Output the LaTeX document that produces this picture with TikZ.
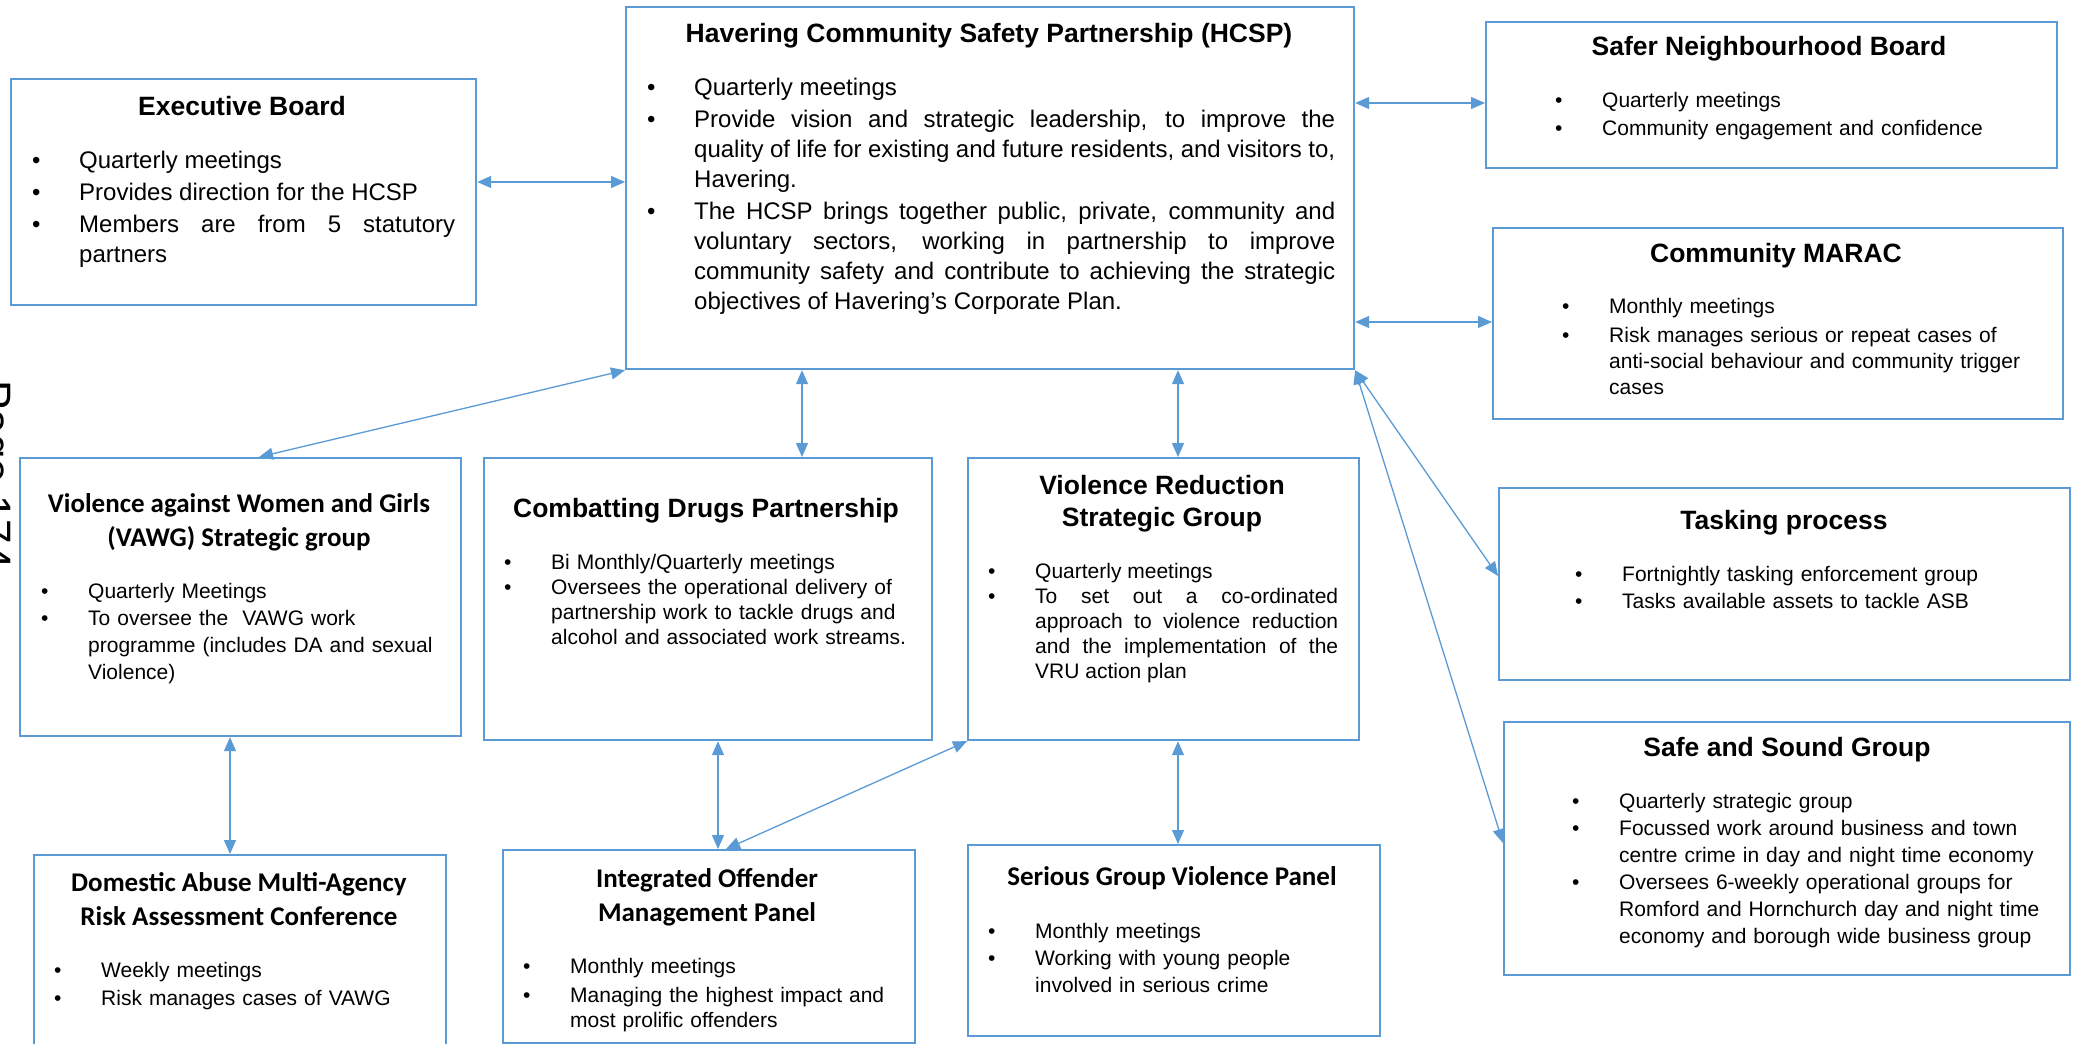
\documentclass[tikz,border=0pt]{standalone}
\usepackage{fontspec}
\setmainfont{Liberation Sans}
\newfontfamily\calfont{Carlito}
\usetikzlibrary{arrows.meta}

\definecolor{hblue}{RGB}{91,155,213}
\newlength\hng
\setlength\hng{47pt}
% bullet item with hanging indent
\newcommand\itm[1]{\hangindent=\hng\hangafter=1\noindent\makebox[\hng][l]{\textbullet}#1\par}

\tikzset{
    box/.style={draw=hblue, line width=2.2pt, anchor=north west, inner sep=0pt},
    hd/.style={anchor=base, inner sep=0pt, align=center, font=\bfseries\fontsize{26.5}{32}\selectfont},
    hdc/.style={anchor=base, inner sep=0pt, align=center, font=\calfont\bfseries\fontsize{27}{34}\selectfont},
    txt/.style 2 args={anchor=base west, inner sep=0pt, align=left, text width=480pt,
        font=\fontsize{21}{#1}\selectfont\setlength\parskip{#2pt}},
    txtj/.style 2 args={anchor=base west, inner sep=0pt, align=justify, text width=#2pt,
        font=\fontsize{#1}{30}\selectfont\setlength\parskip{2pt}},
    link/.style={draw=hblue, line width=1.3pt,
        {Triangle[length=14pt,width=12pt]}-{Triangle[length=14pt,width=12pt]}}
}

\begin{document}
\begin{tikzpicture}[x=1pt, y=-1pt]
    \path[use as bounding box, fill=white] (0,0) rectangle (2073,1044);

    % page number at the left edge
    \node[rotate=-90, anchor=base west, inner sep=0pt, font=\fontsize{44}{44}\selectfont] (pg) at (-19.5,380) {Page 174};

    % top row
    \node[box, minimum width=465pt, minimum height=226pt] (exec) at (10,78) {};
    \node[hd] (exec-t) at (242,115) {Executive Board};
    \node[txtj={24}{423}] (exec-b) at (32,168) {\itm{Quarterly meetings}\itm{Provides direction for the HCSP}\itm{Members are from 5 statutory\linebreak partners}};

    \node[box, minimum width=728pt, minimum height=362pt] (hcsp) at (625,6) {};
    \node[hd] (hcsp-t) at (989,42) {Havering Community Safety Partnership (HCSP)};
    \node[txtj={24}{688}] (hcsp-b) at (647,95) {\itm{Quarterly meetings}%
        \itm{Provide vision and strategic leadership, to improve the\linebreak quality of life for existing and future residents, and visitors to,\linebreak Havering.}%
        \itm{The HCSP brings together public, private, community and\linebreak voluntary sectors, working in partnership to improve\linebreak community safety and contribute to achieving the strategic\linebreak objectives of Havering’s Corporate Plan.}};

    % right column
    \node[box, minimum width=571pt, minimum height=146pt] (snb) at (1485,21) {};
    \node[hd] (snb-t) at (1769,55) {Safer Neighbourhood Board};
    \node[txt={28}{0}] (snb-b) at (1555,107) {\itm{Quarterly meetings}\itm{Community engagement and confidence}};

    \node[box, minimum width=570pt, minimum height=191pt] (marac) at (1492,227) {};
    \node[hd] (marac-t) at (1776,262) {Community MARAC};
    \node[txt={26}{3}] (marac-b) at (1562,313) {\itm{Monthly meetings}\itm{Risk manages serious or repeat cases of\newline anti-social behaviour and community trigger\newline cases}};

    \node[box, minimum width=571pt, minimum height=192pt] (task) at (1498,487) {};
    \node[hd] (task-t) at (1784,529) {Tasking process};
    \node[txt={27}{0}] (task-b) at (1575,581) {\itm{Fortnightly tasking enforcement group}\itm{Tasks available assets to tackle ASB}};

    \node[box, minimum width=566pt, minimum height=253pt] (sas) at (1503,721) {};
    \node[hd] (sas-t) at (1787,756) {Safe and Sound Group};
    \node[txt={27}{0}] (sas-b) at (1572,808) {\itm{Quarterly strategic group}%
        \itm{Focussed work around business and town\newline centre crime in day and night time economy}%
        \itm{Oversees 6-weekly operational groups for\newline Romford and Hornchurch day and night time\newline economy and borough wide business group}};

    % middle row
    \node[box, minimum width=441pt, minimum height=278pt] (vawg) at (19,457) {};
    \node[hdc] (vawg-t) at (239,546) {Violence against Women and Girls\\(VAWG) Strategic group};
    \node[txt={27}{0}] (vawg-b) at (41,598) {\itm{Quarterly Meetings}\itm{To oversee the\ \ VAWG work\newline programme (includes DA and sexual\newline Violence)}};

    \node[box, minimum width=448pt, minimum height=282pt] (cdp) at (483,457) {};
    \node[hd] (cdp-t) at (706,517) {Combatting Drugs Partnership};
    \node[txt={25}{0}] (cdp-b) at (504,569) {\itm{Bi Monthly/Quarterly meetings}\itm{Oversees the operational delivery of\newline partnership work to tackle drugs and\newline alcohol and associated work streams.}};

    \node[box, minimum width=391pt, minimum height=282pt] (vrsg) at (967,457) {};
    \node[hd] (vrsg-t) at (1162,526) {Violence Reduction\\Strategic Group};
    \node[txtj={21}{350}, font=\fontsize{21}{25}\selectfont] (vrsg-b) at (988,578) {\itm{Quarterly meetings}\itm{To set out a co-ordinated\linebreak approach to violence reduction\linebreak and the implementation of the\linebreak VRU action plan}};

    % bottom row
    \node[box, minimum width=412pt, minimum height=210pt] (dam) at (33,854) {};
    \node[hdc] (dam-t) at (239,925) {Domestic Abuse Multi-Agency\\Risk Assessment Conference};
    \node[txt={28}{0}] (dam-b) at (54,977) {\itm{Weekly meetings}\itm{Risk manages cases of VAWG}};

    \node[box, minimum width=412pt, minimum height=193pt] (iom) at (502,849) {};
    \node[hdc] (iom-t) at (707,921) {Integrated Offender\\Management Panel};
    \node[txt={25}{4}] (iom-b) at (523,973) {\itm{Monthly meetings}\itm{Managing the highest impact and\newline most prolific offenders}};

    \node[box, minimum width=412pt, minimum height=191pt] (sgv) at (967,844) {};
    \node[hdc] (sgv-t) at (1172,885) {Serious Group Violence Panel};
    \node[txt={27}{0}] (sgv-b) at (988,938) {\itm{Monthly meetings}\itm{Working with young people\newline involved in serious crime}};

    % connectors
    \draw[link] (exec.east |- 0,182) -- (hcsp.west |- 0,182);
    \draw[link] (hcsp.east |- 0,103) -- (snb.west |- 0,103);
    \draw[link] (hcsp.east |- 0,322) -- (marac.west |- 0,322);
    \draw[link] (hcsp.south west) -- (vawg.north -| 259,0);
    \draw[link] (hcsp.south -| 802,0) -- (cdp.north -| 802,0);
    \draw[link] (hcsp.south -| 1178,0) -- (vrsg.north -| 1178,0);
    \draw[link] (hcsp.south east) -- (task.west |- 0,576);
    \draw[link] (hcsp.south east) -- (sas.west |- 0,843);
    \draw[link] (vawg.south -| 230,0) -- (dam.north -| 230,0);
    \draw[link] (cdp.south -| 718,0) -- (iom.north -| 718,0);
    \draw[link] (vrsg.south west) -- (iom.north -| 726,0);
    \draw[link] (vrsg.south -| 1178,0) -- (sgv.north -| 1178,0);
\end{tikzpicture}
\end{document}
